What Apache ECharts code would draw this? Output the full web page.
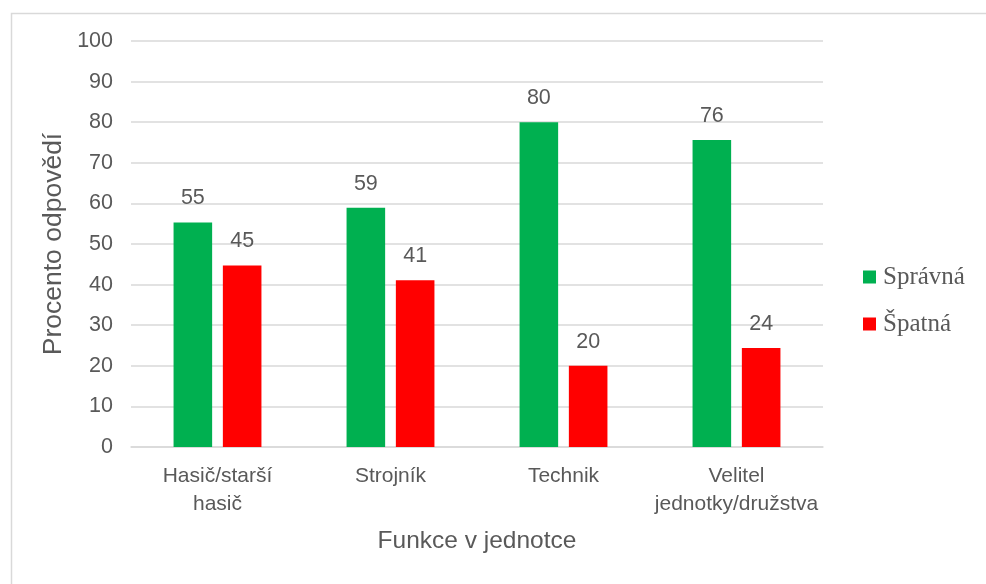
<!DOCTYPE html>
<html>
<head>
<meta charset="utf-8">
<script src="https://cdn.jsdelivr.net/npm/echarts@6/dist/echarts.min.js"></script>
<style>
html,body{margin:0;padding:0;background:#fff;}
#chart{width:986px;height:584px;}
</style>
</head>
<body>
<div id="chart"></div>
<script>
var categories = ['Hasič/starší\nhasič', 'Strojník', 'Technik', 'Velitel\njednotky/družstva'];
var spravna = [55.3, 58.9, 80.0, 75.6];
var spatna = [44.7, 41.1, 20.0, 24.4];
var seriesNames = ['Správná', 'Špatná'];
var yTicks = {min: 0, max: 100, interval: 10};
var xTitle = 'Funkce v jednotce';
var yTitle = 'Procento odpovědí';

var textColor = '#595959';
var font = '"Liberation Sans", Arial, sans-serif';

var chart = echarts.init(document.getElementById('chart'), null, {renderer: 'canvas'});
var labelOpt = {
  show: true,
  position: 'top',
  distance: 13,
  color: textColor,
  fontFamily: font,
  fontSize: 21.5,
  formatter: function (p) { return Math.round(p.value); }
};
chart.setOption({
  backgroundColor: '#ffffff',
  animation: false,
  graphic: [{
    type: 'rect',
    left: 9, top: 11,
    shape: {width: 1000, height: 600},
    style: {fill: 'none', stroke: '#d9d9d9', lineWidth: 1.5},
    silent: true
  }],
  grid: {left: 131, right: 163, top: 41, bottom: 137},
  legend: {
    orient: 'vertical',
    left: 858,
    top: 259,
    itemWidth: 13,
    itemHeight: 13,
    itemGap: 21,
    icon: 'rect',
    data: seriesNames,
    textStyle: {
      color: textColor,
      fontFamily: '"Liberation Serif", "Times New Roman", serif',
      fontSize: 25,
      lineHeight: 26,
      padding: [0, 0, 0, 2]
    }
  },
  xAxis: {
    type: 'category',
    data: categories,
    name: xTitle,
    nameLocation: 'middle',
    nameGap: 82,
    nameMoveOverlap: false,
    nameTextStyle: {color: textColor, fontFamily: font, fontSize: 24.5},
    axisLine: {show: true, lineStyle: {color: '#d9d9d9', width: 1.5}},
    axisTick: {show: false},
    axisLabel: {
      color: textColor, fontFamily: font, fontSize: 21, lineHeight: 28,
      margin: 15, interval: 0
    }
  },
  yAxis: {
    type: 'value',
    min: yTicks.min, max: yTicks.max, interval: yTicks.interval,
    name: yTitle,
    nameLocation: 'middle',
    nameGap: 64,
    nameMoveOverlap: false,
    nameRotate: 90,
    nameTextStyle: {color: textColor, fontFamily: font, fontSize: 26.5},
    axisLine: {show: false},
    axisTick: {show: false},
    axisLabel: {color: textColor, fontFamily: font, fontSize: 21.5, margin: 18},
    splitLine: {lineStyle: {color: '#d9d9d9', width: 1.5}}
  },
  series: [{
    name: seriesNames[0],
    type: 'bar',
    data: spravna,
    barWidth: '22.3%',
    barGap: '27.8%',
    itemStyle: {color: '#00B050'},
    label: labelOpt
  }, {
    name: seriesNames[1],
    type: 'bar',
    data: spatna,
    barWidth: '22.3%',
    barGap: '27.8%',
    itemStyle: {color: '#FF0000'},
    label: labelOpt
  }]
});
</script>
</body>
</html>
